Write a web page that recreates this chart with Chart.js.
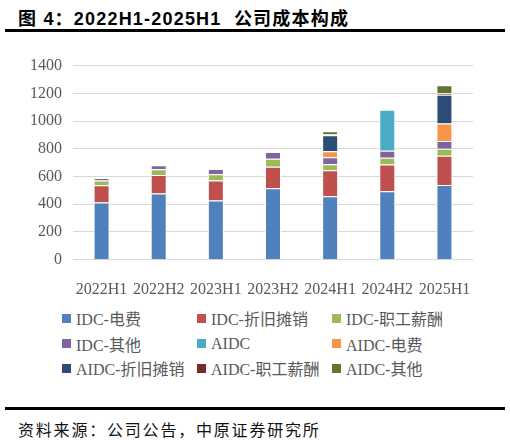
<!DOCTYPE html>
<html>
<head>
<meta charset="utf-8">
<script src="https://cdn.jsdelivr.net/npm/chart.js@4"></script>
<style>
  html, body { margin: 0; padding: 0; background: #fff; }
  body { width: 510px; height: 440px; position: relative; overflow: hidden; }
  #title { position: absolute; left: 18px; top: 4px; font: bold 18px "Liberation Sans", "Noto Sans CJK SC", sans-serif; letter-spacing: 1.2px; color: #000; white-space: nowrap; }
  .rule { position: absolute; left: 5px; width: 500px; height: 3px; background: #000; }
  #wrap { position: absolute; left: 0; top: 45px; width: 510px; height: 250px; }
  #legend { position: absolute; left: 0; top: 0; }
  .li { position: absolute; display: flex; align-items: center; font: 16px "Liberation Serif", "Noto Sans CJK SC", serif; color: #595959; white-space: nowrap; height: 20px; }
  .li span.box { display: inline-block; width: 9px; height: 9px; margin-right: 5px; }
  #source { position: absolute; left: 18px; top: 417px; font: 16px "Noto Sans CJK SC", sans-serif; letter-spacing: 1.8px; color: #111; white-space: nowrap; }
</style>
</head>
<body>
<div id="title">图 4：2022H1-2025H1&nbsp; 公司成本构成</div>
<div class="rule" style="top:29px"></div>
<div id="wrap"><canvas id="c" width="510" height="250"></canvas></div>
<div id="legend"></div>
<div class="rule" style="top:407px"></div>
<div id="source">资料来源：公司公告，中原证券研究所</div>
<script>
const categories = ['2022H1','2022H2','2023H1','2023H2','2024H1','2024H2','2025H1'];
const idcPower   = [412, 477, 427, 515, 458, 494, 539];
const idcDep     = [125, 134, 144, 156, 187, 192, 211];
const idcStaff   = [34, 41, 45, 58, 43, 50, 51];
const idcOther   = [19, 29, 38, 48, 51, 50, 55];
const aidc       = [null, null, null, null, null, 295, null];
const aidcPower  = [null, null, null, null, 43, null, 127];
const aidcDep    = [null, null, null, null, 115, null, 206];
const aidcStaff  = [null, null, null, null, 6, null, 12];
const aidcOther  = [null, null, null, null, 23, null, 58];
const seriesNames = ['IDC-电费','IDC-折旧摊销','IDC-职工薪酬','IDC-其他','AIDC','AIDC-电费','AIDC-折旧摊销','AIDC-职工薪酬','AIDC-其他'];
const seriesData = [idcPower, idcDep, idcStaff, idcOther, aidc, aidcPower, aidcDep, aidcStaff, aidcOther];
const colors = ['#4F81BD','#C0504D','#9BBB59','#8064A2','#4BACC6','#F79646','#2C4D75','#772C2A','#5F7530'];
const yTicks = [0, 200, 400, 600, 800, 1000, 1200, 1400];

const datasets = seriesNames.map((n, i) => ({
  label: n,
  data: seriesData[i],
  backgroundColor: colors[i],
  borderColor: '#ffffff',
  borderWidth: 1,
  barPercentage: 0.28,
  categoryPercentage: 1.0
}));

const tickFont = { family: '"Liberation Serif", serif', size: 16 };
const chart = new Chart(document.getElementById('c'), {
  type: 'bar',
  data: { labels: categories, datasets },
  options: {
    responsive: false,
    animation: false,
    layout: { padding: { left: 0, right: 37, top: 20, bottom: 0 } },
    plugins: { legend: { display: false }, tooltip: { enabled: false } },
    scales: {
      x: {
        stacked: true,
        grid: { display: false },
        border: { display: false },
        ticks: { font: tickFont, color: '#595959', padding: 12, maxRotation: 0, autoSkip: false },
        afterFit: s => { s.height = 35.3; }
      },
      y: {
        stacked: true,
        min: 0, max: 1400,
        afterBuildTicks: s => { s.ticks = yTicks.map(v => ({ value: v })); },
        grid: { color: '#d9d9d9', lineWidth: 1, drawTicks: false },
        border: { display: false },
        ticks: { font: tickFont, color: '#595959', padding: 11, callback: v => String(v) },
        afterFit: s => { s.width = 73; }
      }
    }
  }
});

const legend = document.getElementById('legend');
const colX = [62, 197, 332];
const rowY = [318, 343.5, 368];
chart.data.datasets.forEach((ds, i) => {
  const d = document.createElement('div');
  d.className = 'li';
  d.style.left = colX[i % 3] + 'px';
  d.style.top = (rowY[Math.floor(i / 3)] - 10) + 'px';
  const b = document.createElement('span');
  b.className = 'box';
  b.style.background = ds.backgroundColor;
  d.appendChild(b);
  d.appendChild(document.createTextNode(ds.label));
  legend.appendChild(d);
});
</script>
</body>
</html>
